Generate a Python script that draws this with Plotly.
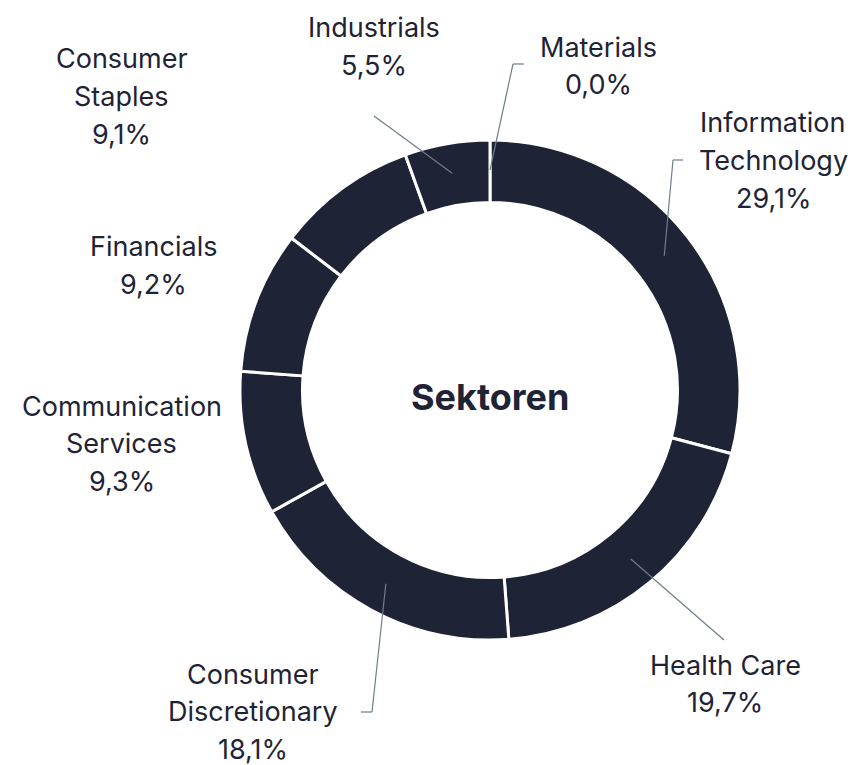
import math
import plotly.graph_objects as go

# ---- data ----
sectors = ["Materials", "Information Technology", "Health Care",
           "Consumer Discretionary", "Communication Services",
           "Financials", "Consumer Staples", "Industrials"]
weights = [0.0, 29.1, 19.7, 18.1, 9.3, 9.2, 9.1, 5.5]
label_lines = [["Materials"], ["Information", "Technology"], ["Health Care"],
               ["Consumer", "Discretionary"], ["Communication", "Services"],
               ["Financials"], ["Consumer", "Staples"], ["Industrials"]]
center_title = "Sektoren"

# ---- layout (pixels) ----
W, H = 856, 765
CX, CY, R = 490, 390, 250
HOLE = 0.75
LINE_H = 37.8
NAVY = "#1f2336"
LEADER_COLOR = "#6e7f88"
FONT = "Inter, Lato, sans-serif"
FS = 27

# text block center-x and first-line y for each sector
label_pos = {
    "Materials": (598, 47),
    "Information Technology": (773, 123),
    "Health Care": (725, 665),
    "Consumer Discretionary": (253, 674),
    "Communication Services": (122, 406),
    "Financials": (153, 247),
    "Consumer Staples": (122, 59),
    "Industrials": (374, 28),
}
# leader line path after the slice anchor (pixels)
leader_path = {
    "Materials": [(513, 64), (524, 64)],
    "Information Technology": [(673, 160), (683, 160)],
    "Health Care": [(724, 640)],
    "Consumer Discretionary": [(372, 712), (361, 712)],
    "Industrials": [(374, 116)],
}
ANCHOR_R = 220


def px(x):
    return x / W


def py(y):
    return 1 - y / H


fig = go.Figure(go.Pie(
    labels=sectors, values=weights, hole=HOLE, sort=False,
    direction="clockwise", rotation=0,
    marker=dict(colors=[NAVY] * len(sectors), line=dict(color="white", width=3)),
    textinfo="none", hoverinfo="label+percent", showlegend=False,
    domain=dict(x=[px(CX - R), px(CX + R)], y=[py(CY + R), py(CY - R)]),
))

annotations = []
shapes = []
total = sum(weights)
cum = 0.0
for name, val, lines in zip(sectors, weights, label_lines):
    mid = (cum + val / 2) / total
    cum += val
    ang = 2 * math.pi * mid
    ax = CX + ANCHOR_R * math.sin(ang)
    ay = CY - ANCHOR_R * math.cos(ang)
    tx, ty = label_pos[name]
    pct = f"{val:.1f}".replace(".", ",") + "%"
    for i, t in enumerate(lines + [pct]):
        annotations.append(dict(
            x=px(tx), y=py(ty + i * LINE_H), xref="paper", yref="paper",
            text=t, showarrow=False, xanchor="center", yanchor="middle",
            borderpad=0,
            font=dict(family=FONT, size=FS, color=NAVY)))
    if name in leader_path:
        pts = [(ax, ay)] + leader_path[name]
        for (x0, y0), (x1, y1) in zip(pts[:-1], pts[1:]):
            shapes.append(dict(type="line", xref="paper", yref="paper",
                               x0=px(x0), y0=py(y0), x1=px(x1), y1=py(y1),
                               line=dict(color=LEADER_COLOR, width=1.2)))

annotations.append(dict(
    x=px(CX), y=py(CY + 7), xref="paper", yref="paper",
    text=f"<b>{center_title}</b>", showarrow=False,
    xanchor="center", yanchor="middle",
    font=dict(family=FONT, size=36, color=NAVY)))

fig.update_layout(
    width=W, height=H, margin=dict(l=0, r=0, t=0, b=0),
    paper_bgcolor="white", plot_bgcolor="white",
    annotations=annotations, shapes=shapes,
)

fig.write_html(
    "out.html",
    config={"displayModeBar": False},
    post_script="document.body.style.margin='0';document.body.style.overflow='hidden';",
)
